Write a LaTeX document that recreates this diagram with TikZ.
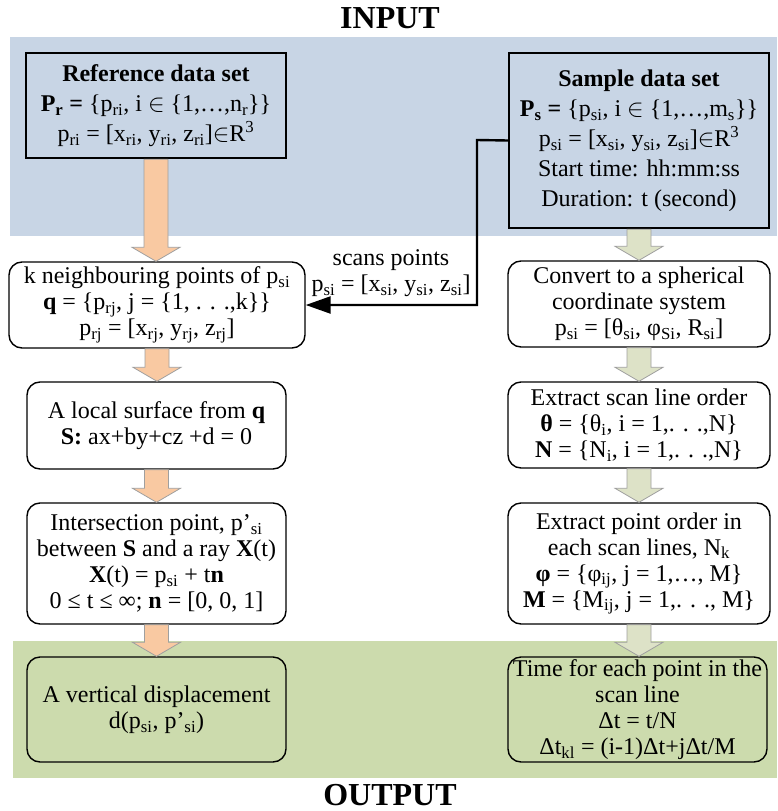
\documentclass[tikz,border=0pt]{standalone}
\usepackage{fontspec}
\setmainfont{Liberation Serif}
\usetikzlibrary{arrows.meta,calc}

\definecolor{inblue}{HTML}{C8D5E5}
\definecolor{outgreen}{HTML}{CCDBAD}
\definecolor{refarrow}{HTML}{F9C9A2}
\definecolor{smparrow}{HTML}{DDE2C7}

\newcommand{\sbs}[1]{\textsubscript{#1}}
\newcommand{\sps}[1]{\textsuperscript{#1}}

\pgfdeclarelayer{back}
\pgfsetlayers{back,main}

\tikzset{
	databox/.style={draw, line width=2.4pt, fill=inblue, inner sep=0pt, align=center,
		minimum width=260pt, font=\fontsize{24}{30}\selectfont},
	stepbox/.style={draw, line width=1.4pt, rounded corners=13pt, fill=white, inner sep=0pt,
		align=center, minimum width=259pt, minimum height=86pt, font=\fontsize{24}{26}\selectfont},
	fatarrow/.style={draw=gray!75, line width=0.8pt, fill=#1,
		to path={let \p1=(\tikztostart), \p2=(\tikztotarget) in
			(\x1-12pt,\y1) -- (\x1-12pt,\y2+14pt) -- (\x1-24pt,\y2+14pt) -- (\x1,\y2)
			-- (\x1+24pt,\y2+14pt) -- (\x1+12pt,\y2+14pt) -- (\x1+12pt,\y1) -- cycle}},
	bandtitle/.style={font=\fontsize{32}{32}\selectfont\bfseries}
}

\begin{document}
\begin{tikzpicture}[x=1pt,y=-1pt]
		\useasboundingbox (0,0) rectangle (777,811);

		% Bands
		\begin{pgfonlayer}{back}
			\fill[inblue] (10,37) rectangle (777,236);
			\fill[outgreen] (13,641) rectangle (777,778);
		\end{pgfonlayer}
		\node[bandtitle] (input) at (390,18) {INPUT};
		\node[bandtitle] (output) at (390,795) {OUTPUT};

		% Input data sets
		\node[databox, minimum height=105pt] (ref) at (156,105.5)
			{\textbf{Reference data set}\\
			 \textbf{P\sbs{r} =} \{p\sbs{ri}, i $\in$ \{1,…,n\sbs{r}\}\}\\
			 p\sbs{ri} = [x\sbs{ri}, y\sbs{ri}, z\sbs{ri}]$\in$R\sps{3}};
		\node[databox, minimum height=175pt] (sample) at (639,140.5)
			{\textbf{Sample data set}\\
			 \textbf{P\sbs{s} =} \{p\sbs{si}, i $\in$ \{1,…,m\sbs{s}\}\}\\
			 p\sbs{si} = [x\sbs{si}, y\sbs{si}, z\sbs{si}]$\in$R\sps{3}\\
			 Start time: hh:mm:ss\\
			 Duration: t (second)};

		% Reference side
		\node[stepbox, minimum width=296pt] (knn) at (157,305)
			{k neighbouring points of p\sbs{si}\\
			 \textbf{q} = \{p\sbs{rj}, j = \{1, . . .,k\}\}\\
			 p\sbs{rj} = [x\sbs{rj}, y\sbs{rj}, z\sbs{rj}]};
		\node[stepbox, minimum height=87pt] (surf) at (156.5,425.5)
			{A local surface from \textbf{q}\\
			 \textbf{S:} ax+by+cz +d = 0};
		\node[stepbox, minimum height=121pt] (inter) at (156.5,563.5)
			{Intersection point, p’\sbs{si}\\
			 between \textbf{S} and a ray \textbf{X}(t)\\
			 \textbf{X}(t) = p\sbs{si} + t\textbf{n}\\
			 0 ≤ t ≤ ∞; \textbf{n} = [0, 0, 1]};
		\node[stepbox, minimum height=105pt, fill=outgreen] (disp) at (156.5,709.5)
			{A vertical displacement\\
			 d(p\sbs{si}, p’\sbs{si})};

		% Sample side
		\node[stepbox, minimum width=262pt] (conv) at (639,304)
			{Convert to a spherical\\
			 coordinate system\\
			 p\sbs{si} = [θ\sbs{si}, φ\sbs{Si}, R\sbs{si}]};
		\node[stepbox, minimum width=262pt] (order) at (639,425)
			{Extract scan line order\\
			 \textbf{θ} = \{θ\sbs{i}, i = 1,. . .,N\}\\
			 \textbf{N} = \{N\sbs{i}, i = 1,. . .,N\}};
		\node[stepbox, minimum width=262pt, minimum height=121pt] (point) at (639,563.5)
			{Extract point order in\\
			 each scan lines, N\sbs{k}\\
			 \textbf{φ} = \{φ\sbs{ij}, j = 1,…, M\}\\
			 \textbf{M} = \{M\sbs{ij}, j = 1,. . ., M\}};
		\node[stepbox, minimum height=105pt, fill=outgreen] (time) at (637.5,709.5)
			{Time for each point in the\\
			 scan line\\
			 Δt = t/N\\
			 Δt\sbs{kl} = (i-1)Δt+jΔt/M};

		% Block arrows
		\draw[fatarrow=refarrow] (ref.south) to (knn.north);
		\draw[fatarrow=refarrow] (knn.south) to (surf.north);
		\draw[fatarrow=refarrow] (surf.south) to (inter.north);
		\draw[fatarrow=refarrow] (inter.south) to (disp.north);
		\draw[fatarrow=smparrow] (sample.south) to (conv.north);
		\draw[fatarrow=smparrow] (conv.south) to (order.north);
		\draw[fatarrow=smparrow] (order.south) to (point.north);
		\draw[fatarrow=smparrow] (point.south) to (time.north);

		% Scanned points to the neighbour search
		\coordinate (bend) at (477,140);
		\draw[line width=2.4pt, -{Triangle[length=25pt,width=17pt]}] (sample.west) -- (bend) |- (knn.east);
		\node[font=\fontsize{24}{26}\selectfont, align=center] (scans) at (391,273)
			{scans points\\p\sbs{si} = [x\sbs{si}, y\sbs{si}, z\sbs{si}]};
	\end{tikzpicture}
\end{document}
